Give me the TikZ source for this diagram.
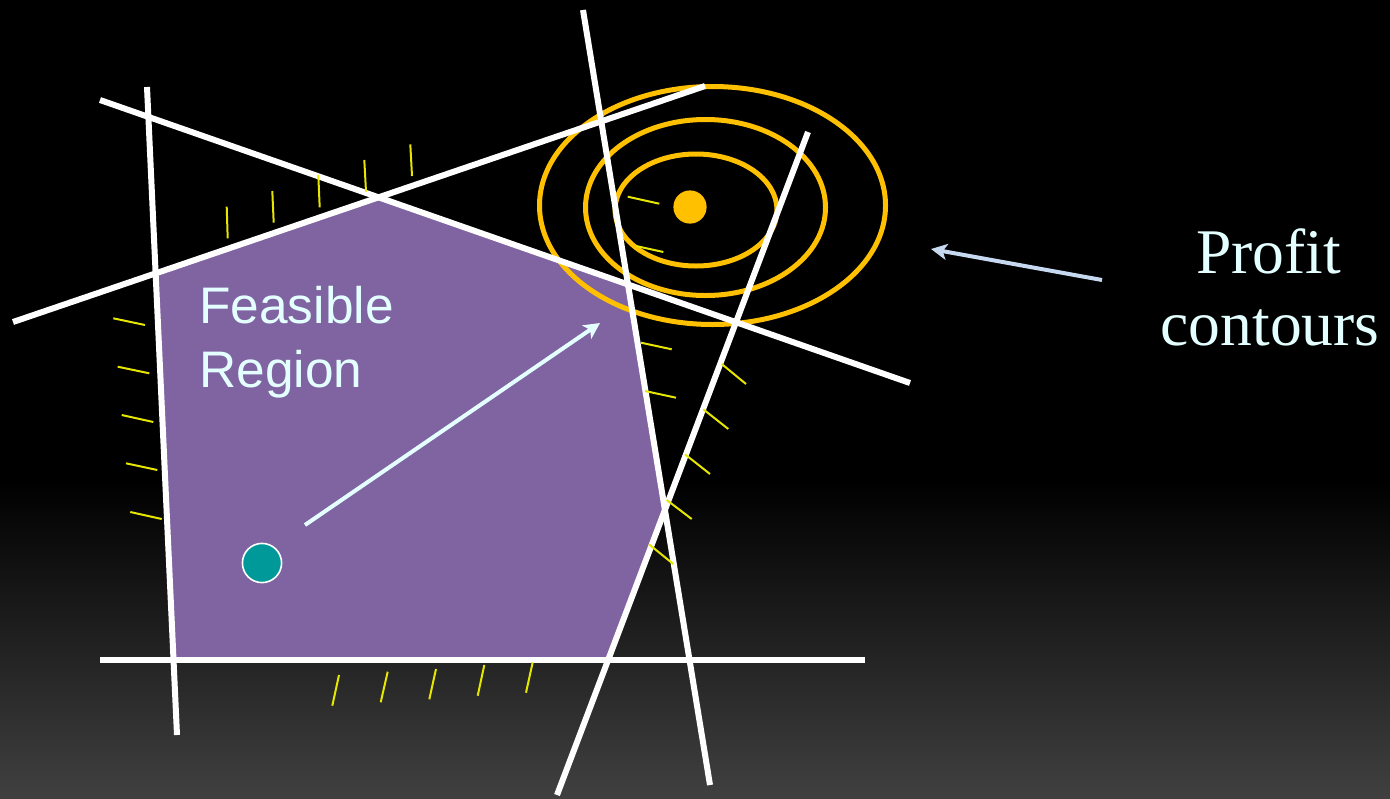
\documentclass[tikz,border=0pt]{standalone}
\usepackage{fontspec}
\setmainfont{Liberation Serif}
\newfontfamily\arialf{Liberation Sans}
\usetikzlibrary{arrows.meta}
\definecolor{feaspurple}{HTML}{8064A2}
\definecolor{contourorange}{HTML}{FFC000}
\definecolor{hatchyellow}{HTML}{E6E600}
\definecolor{tealdot}{HTML}{009999}
\definecolor{textcyan}{HTML}{E4FFFF}
\definecolor{arrowblue}{HTML}{C6D9F1}
\definecolor{bggray}{HTML}{404040}
\tikzset{
  constraint/.style={draw=white, line width=3pt},
  hatch/.style={draw=hatchyellow, line width=1pt},
  contour/.style={draw=contourorange, line width=2.5pt},
  pointer/.style={line width=2pt, -{Stealth[length=8pt,width=8pt,inset=2pt]}},
}
\begin{document}
\begin{tikzpicture}[x=0.5pt,y=-0.5pt]
\useasboundingbox (0,0) rectangle (1390,798);
\fill[black] (0,0) rectangle (1390,481);
\shade[top color=black,bottom color=bggray] (0,480) rectangle (1390,798);

% constraint line end points
\coordinate (l1a) at (147,87);  \coordinate (l1b) at (177,735);
\coordinate (l2a) at (100,100); \coordinate (l2b) at (910,383);
\coordinate (l3a) at (13,322);  \coordinate (l3b) at (705,86);
\coordinate (l4a) at (583,10);  \coordinate (l4b) at (710,785);
\coordinate (l5a) at (808,132); \coordinate (l5b) at (557,795);
\coordinate (l6a) at (100,660); \coordinate (l6b) at (865,660);

% feasible region
\fill[feaspurple] (intersection of l1a--l1b and l3a--l3b)
  -- (intersection of l2a--l2b and l3a--l3b)
  -- (intersection of l2a--l2b and l4a--l4b)
  -- (intersection of l4a--l4b and l5a--l5b)
  -- (intersection of l5a--l5b and l6a--l6b)
  -- (intersection of l1a--l1b and l6a--l6b) -- cycle;

% profit contours
\coordinate (c1) at (712.5,205.5);
\coordinate (c2) at (705.5,207.5);
\coordinate (c3) at (696,210);
\draw[contour] (c1) ellipse [x radius=86.5pt, y radius=59.5pt];
\draw[contour] (c2) ellipse [x radius=60pt, y radius=44pt];
\draw[contour] (c3) ellipse [x radius=40.5pt, y radius=28pt];

% constraint lines
\draw[constraint] (l1a) -- (l1b);
\draw[constraint] (l2a) -- (l2b);
\draw[constraint] (l3a) -- (l3b);
\draw[constraint] (l4a) -- (l4b);
\draw[constraint] (l5a) -- (l5b);
\draw[constraint] (l6a) -- (l6b);

% hatches
\foreach \xa/\ya/\xb/\yb in {
  226.7/206.7/227.7/238.3, 272.3/191/273.7/222.7, 318.3/175/319.7/207.3,
  364.3/160/366/191.7, 410.3/144.3/412/176,
  113.3/318.3/145/325, 117.7/366.7/149.3/373.3, 121.7/415/153.3/422,
  126/463.3/157.3/470, 130.3/512/161.7/519,
  627.7/196.7/659.3/203.7, 636/246/663.3/252,
  641/342.7/671.7/349.3, 645/391/676/397.7,
  721.7/364/746/384, 703.3/409.3/728.3/429, 685/454.3/710/474,
  666.7/500/691.7/519, 649/544.3/673.3/564,
  339/675/332.3/705.7, 387.7/671.7/380.7/702.3, 436/669/429.3/699.3,
  484.3/665/477.7/695.7, 532.7/662.3/526/692.7}
  \draw[hatch] (\xa,\ya) -- (\xb,\yb);

% optimum and start points
\fill[contourorange] (690,207) circle [radius=8.3pt];
\filldraw[fill=tealdot, draw=white, line width=0.8pt] (262,563) circle [radius=9.8pt];

% arrows
\coordinate (as) at (305,525);
\coordinate (ae) at (600,323);
\draw[pointer, draw=textcyan, fill=textcyan] (as) -- (ae);
\coordinate (ps) at (1102,280);
\coordinate (pe) at (931,249);
\draw[pointer, draw=arrowblue, fill=arrowblue] (ps) -- (pe);

% labels
\node[anchor=base west, inner sep=0pt, text=textcyan, font=\arialf\fontsize{25.7}{30}\selectfont] (feas) at (199,323) {Feasible};
\node[anchor=base west, inner sep=0pt, text=textcyan, font=\arialf\fontsize{25.7}{30}\selectfont] (reg) at (199,387) {Region};
\node[anchor=base, inner sep=0pt, text=textcyan, font=\fontsize{31.8}{36}\selectfont] (prof) at (1268.5,273) {Profit};
\node[anchor=base, inner sep=0pt, text=textcyan, font=\fontsize{31.8}{36}\selectfont] (cont) at (1270,345) {contours};
\end{tikzpicture}
\end{document}
